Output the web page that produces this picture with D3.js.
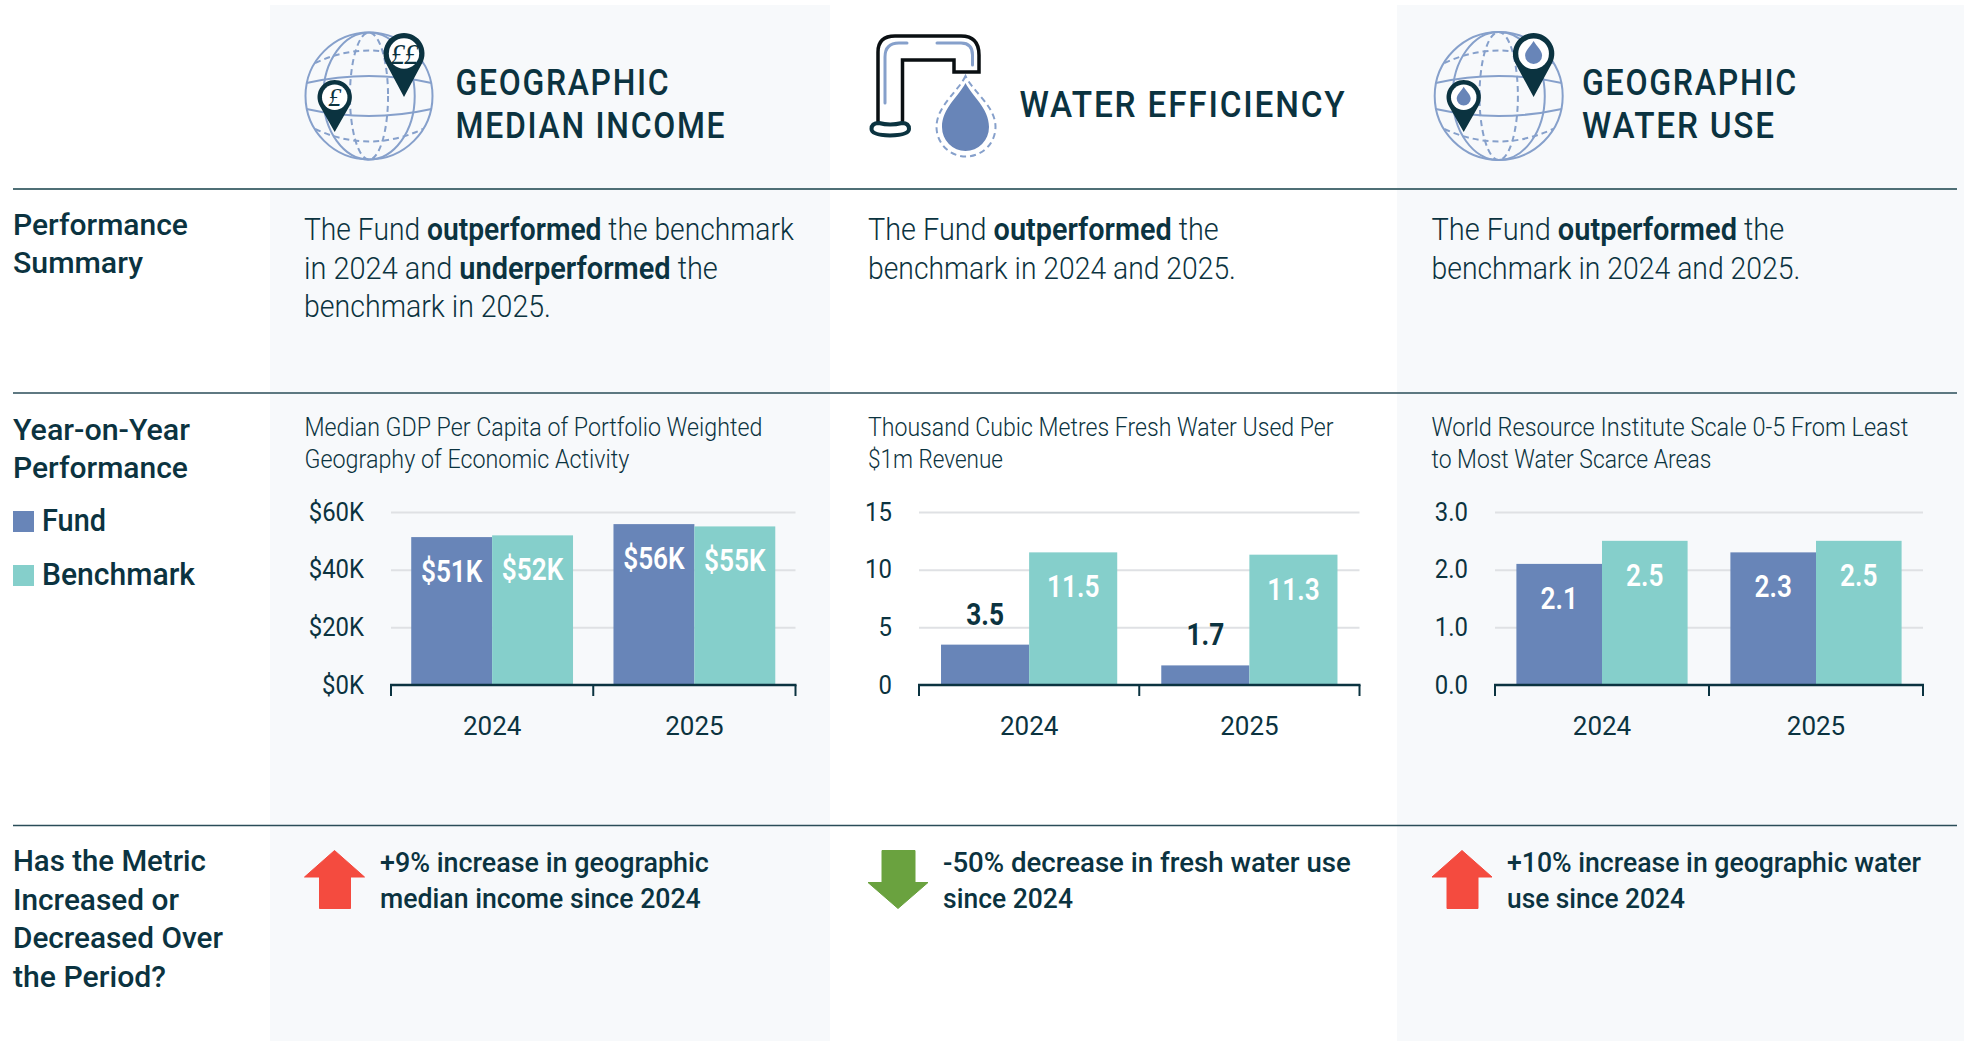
<!DOCTYPE html>
<html>
<head>
<meta charset="utf-8">
<script src="https://cdn.jsdelivr.net/npm/d3@7"></script>
<style>
  html, body { margin: 0; padding: 0; background: #fff; }
  svg { display: block; }
  text { font-family: Roboto, "Open Sans", sans-serif; fill: #0b3340; }
</style>
</head>
<body>
<div id="chart"></div>
<script>
// chart data
const years = ["2024", "2025"];
const series = ["Fund", "Benchmark"];
const incomeFund = [51.3, 55.8];
const incomeBenchmark = [51.9, 55.0];
const incomeTicks = [0, 20, 40, 60];
const waterFund = [3.5, 1.7];
const waterBenchmark = [11.5, 11.3];
const waterTicks = [0, 5, 10, 15];
const scarcityFund = [2.1, 2.3];
const scarcityBenchmark = [2.5, 2.5];
const scarcityTicks = [0, 1, 2, 3];

const FUND = "#6885b8", BENCH = "#85cfcb", INK = "#0b3340";
const GRID = "#dfe1e4", PANEL = "#f7f9fb", LINE_BLUE = "#86a0cb";
const seriesColor = d3.scaleOrdinal().domain(series).range([FUND, BENCH]);

const width = 1964, height = 1041;
const svg = d3.select("#chart").append("svg").attr("width", width).attr("height", height);

// Squeeze a text to a measured width, the installed fonts are wider than the original
function fit(text, x, y, w) {
    const k = w / text.node().getComputedTextLength();
    text.attr("transform", `translate(${x},${y}) scale(${k},1)`);
    return text;
}

function line(parent, runs, x, y, w, size, weight, spacing) {
    const t = parent.append("text")
        .style("font-size", size + "px")
        .style("font-weight", weight)
        .style("letter-spacing", spacing ? spacing + "px" : null);
    runs.forEach(r => {
        t.append("tspan")
            .style("font-weight", r.bold ? 600 : null)
            .text(r.text);
    });
    return fit(t, x, y, w);
}
const plain = s => [{ text: s }];

// Background panels
[[270, 830], [1397, 1964]].forEach(p => {
    svg.append("rect").attr("x", p[0]).attr("y", 5)
        .attr("width", p[1] - p[0]).attr("height", height - 5).attr("fill", PANEL);
});

// Row rules
[[189, "#4f6f76", 2], [393, "#2a4d58", 1.5], [825.5, "#2a4d58", 1.5]].forEach(r => {
    svg.append("line").attr("x1", 13).attr("x2", 1957).attr("y1", r[0]).attr("y2", r[0])
        .attr("stroke", r[1]).attr("stroke-width", r[2]);
});

// Left column
const rowLabels = [
    ["Performance", 235, 175], ["Summary", 273, 130],
    ["Year-on-Year", 440, 177], ["Performance", 478, 175],
    ["Has the Metric", 871, 193], ["Increased or", 910, 166],
    ["Decreased Over", 948, 210], ["the Period?", 987, 153]
];
rowLabels.forEach(d => line(svg, plain(d[0]), 13, d[1], d[2], 30, 500));

// Legend
[[511, 531, 64], [565, 585, 153]].forEach((d, i) => {
    svg.append("rect").attr("x", 13).attr("y", d[0]).attr("width", 21).attr("height", 21)
        .attr("fill", seriesColor(series[i]));
    line(svg, plain(series[i]), 42, d[1], d[2], 31, 500);
});

// Globe with two map pins
function globe(cx, cy, r) {
    const g = svg.append("g").attr("transform", `translate(${cx},${cy})`)
        .attr("fill", "none").attr("stroke", LINE_BLUE).attr("stroke-width", 2);
    g.append("circle").attr("r", r);
    g.append("ellipse").attr("rx", r * 0.72).attr("ry", r);
    const dashed = g.append("g").attr("stroke-dasharray", "6 4");
    dashed.append("ellipse").attr("rx", r * 0.3).attr("ry", r);
    [-1, 1].forEach(s => {
        g.append("path").attr("d", `M${-r + 1},${s * 13}Q0,${s * 27} ${r - 1},${s * 13}`);
        dashed.append("path").attr("d", `M${-r * 0.85},${s * 33}Q0,${s * 58} ${r * 0.85},${s * 33}`);
    });
}

function pin(cx, top, r, tip) {
    const cy = top + r;
    const g = svg.append("g").attr("transform", `translate(${cx},${cy})`);
    const a = Math.asin(r / (tip - cy));
    const px = r * Math.cos(a), py = r * Math.sin(a);
    g.append("path").attr("fill", INK)
        .attr("d", `M${-px},${py}A${r},${r} 0 1 1 ${px},${py}L0,${tip - cy}Z`);
    g.append("circle").attr("r", r * 0.74).attr("fill", "#fff");
    return g;
}

function smallDrop(g, r) {
    g.append("path").attr("fill", FUND)
        .attr("d", `M0,${-r * 1.5}C${r * 0.4},${-r * 0.8} ${r},${-r * 0.4} ${r},${r * 0.2}A${r},${r} 0 1 1 ${-r},${r * 0.2}C${-r},${-r * 0.4} ${-r * 0.4},${-r * 0.8} 0,${-r * 1.5}Z`);
}

globe(369, 96, 63.5);
pin(404, 33, 20.5, 97).append("text").attr("text-anchor", "middle").attr("y", 10)
    .style("font-family", "'Liberation Serif', serif").style("font-style", "italic")
    .style("font-size", "29px").style("letter-spacing", "-1px").text("££");
pin(334.7, 80, 17.2, 132).append("text").attr("text-anchor", "middle").attr("y", 9)
    .style("font-family", "'Liberation Serif', serif").style("font-style", "italic")
    .style("font-size", "26px").text("£");

globe(1498.7, 96, 64);
smallDrop(pin(1533.6, 33, 20.7, 97), 8.5);
smallDrop(pin(1463.7, 80, 17.2, 132), 7);

// Tap and drop
const tap = svg.append("g").attr("fill", "none");
tap.append("path")
    .attr("d", "M878,123V52Q878,36 895,36H961Q979,36 979,55V72H954V60H902.5V123")
    .attr("fill", "#fff").attr("stroke", "#0a0f12").attr("stroke-width", 3.5);
tap.append("path")
    .attr("d", "M871.5,129Q871.5,123 879,123Q890,126 902,123Q909,123 909,129Q909,135 890,135.5Q871.5,135 871.5,129Z")
    .attr("fill", "#fff").attr("stroke", INK).attr("stroke-width", 4);
tap.append("path").attr("d", "M885,103V57Q885,43 899,43H907M937,43H961Q972.5,43 972.5,55V65")
    .attr("stroke", LINE_BLUE).attr("stroke-width", 3).attr("stroke-linecap", "round");
tap.append("path").attr("d", "M965.5,83C959,96 942,108 942,127A23.5,24 0 0 0 989,127C989,108 972,96 965.5,83Z")
    .attr("fill", FUND);
tap.append("path").attr("d", "M965.5,76C958,92 936.5,106 936.5,127A29.5,29.5 0 0 0 995.5,127C995.5,106 973,92 965.5,76Z")
    .attr("stroke", LINE_BLUE).attr("stroke-width", 2).attr("stroke-dasharray", "6 4");

// Column headings
const headings = [
    ["GEOGRAPHIC", 455.5, 95, 215], ["MEDIAN INCOME", 455.5, 138, 271],
    ["WATER EFFICIENCY", 1019.5, 116.5, 327],
    ["GEOGRAPHIC", 1582, 95, 216], ["WATER USE", 1582, 138, 194]
];
headings.forEach(d => line(svg, plain(d[0]), d[1], d[2], d[3], 37, 500, 2));

// Performance summary
const o = { text: "outperformed", bold: true };
const u = { text: "underperformed", bold: true };
const summaries = [
    [[{ text: "The Fund " }, o, { text: " the benchmark" }], 304, 240, 490],
    [[{ text: "in 2024 and " }, u, { text: " the" }], 304, 279, 414],
    [plain("benchmark in 2025."), 304, 317, 247],
    [[{ text: "The Fund " }, o, { text: " the" }], 868, 240, 351],
    [plain("benchmark in 2024 and 2025."), 868, 279, 368],
    [[{ text: "The Fund " }, o, { text: " the" }], 1431.5, 240, 353],
    [plain("benchmark in 2024 and 2025."), 1431.5, 279, 369]
];
summaries.forEach(d => line(svg, d[0], d[1], d[2], d[3], 31, 300));

// Chart subtitles
const subtitles = [
    ["Median GDP Per Capita of Portfolio Weighted", 304.5, 436, 458],
    ["Geography of Economic Activity", 304.5, 468, 325],
    ["Thousand Cubic Metres Fresh Water Used Per", 868, 436, 466],
    ["$1m Revenue", 868, 468, 135],
    ["World Resource Institute Scale 0-5 From Least", 1431.5, 436, 477],
    ["to Most Water Scarce Areas", 1431.5, 468, 280]
];
subtitles.forEach(d => line(svg, plain(d[0]), d[1], d[2], d[3], 26, 300));

// Bar charts
function drawBars(left, right, fund, bench, ticks, tickFormat, labelFormat) {
    const yBottom = 685, yTop = 512;
    const g = svg.append("g");
    const rows = years.map((y, i) => ({ year: y, values: [fund[i], bench[i]] }));

    const x0 = d3.scaleBand().domain(years).range([left, right]);
    const x1 = d3.scaleBand().domain(series).range([0, x0.bandwidth()]).paddingOuter(0.25);
    const y = d3.scaleLinear().domain([ticks[0], ticks[ticks.length - 1]]).range([yBottom, yTop]);

    // gridlines
    const grid = g.append("g").attr("transform", `translate(${left},0)`)
        .call(d3.axisLeft(y).tickValues(ticks.slice(1)).tickSize(-(right - left)).tickFormat(""));
    grid.select(".domain").remove();
    grid.selectAll(".tick line").attr("stroke", GRID).attr("stroke-width", 2);

    // bars
    const groups = g.selectAll(".year").data(rows).enter().append("g")
        .attr("class", "year")
        .attr("transform", d => `translate(${x0(d.year)},0)`);
    groups.selectAll("rect")
        .data(d => d.values.map((v, i) => ({ name: series[i], value: v })))
        .enter().append("rect")
        .attr("x", d => x1(d.name))
        .attr("width", x1.bandwidth())
        .attr("y", d => y(d.value))
        .attr("height", d => yBottom - y(d.value))
        .attr("fill", d => seriesColor(d.name));

    // value labels, small bars get theirs on top in dark
    groups.selectAll(".value")
        .data(d => d.values.map((v, i) => ({ name: series[i], value: v })))
        .enter().append("text")
        .attr("class", "value")
        .attr("text-anchor", "middle")
        .attr("transform", d => {
            const inside = y(d.value) < yBottom - 60;
            return `translate(${x1(d.name) + x1.bandwidth() / 2},${y(d.value) + (inside ? 45 : -20)}) scale(0.82,1)`;
        })
        .style("font-size", "32px")
        .style("font-weight", d => y(d.value) < yBottom - 60 ? 600 : 700)
        .style("fill", d => y(d.value) < yBottom - 60 ? "#fff" : INK)
        .text(d => labelFormat(d.value));

    // y labels
    const yAxis = g.append("g").attr("transform", `translate(${left},0)`)
        .call(d3.axisLeft(y).tickValues(ticks).tickSize(0).tickPadding(27).tickFormat(tickFormat));
    yAxis.select(".domain").remove();
    yAxis.selectAll("text")
        .attr("x", 0)
        .attr("transform", "translate(-27,0) scale(0.92,1)")
        .style("font-size", "26px").style("font-family", null).attr("fill", null);

    // x axis, ticks sit between the years
    const xAxis = g.append("g").attr("transform", `translate(0,${yBottom})`)
        .call(d3.axisBottom(x0).tickSize(0).tickPadding(32));
    xAxis.select(".domain").remove();
    xAxis.selectAll("text").style("font-size", "26px").style("font-family", null).attr("fill", null);
    const bounds = d3.range(years.length + 1).map(i => left + i * x0.step());
    g.append("line").attr("x1", left - 1).attr("x2", right + 1).attr("y1", yBottom).attr("y2", yBottom)
        .attr("stroke", INK).attr("stroke-width", 2.5);
    g.selectAll(".bound").data(bounds).enter().append("line")
        .attr("class", "bound")
        .attr("x1", d => d).attr("x2", d => d)
        .attr("y1", yBottom).attr("y2", yBottom + 11)
        .attr("stroke", INK).attr("stroke-width", 2);
}

const incomeFormat = v => "$" + d3.format(".0f")(v) + "K";
drawBars(391, 795.5, incomeFund, incomeBenchmark, incomeTicks, incomeFormat, incomeFormat);
drawBars(919, 1359.5, waterFund, waterBenchmark, waterTicks, d3.format("d"), d3.format(".1f"));
drawBars(1495, 1923, scarcityFund, scarcityBenchmark, scarcityTicks, d3.format(".1f"), d3.format(".1f"));

// Change arrows
function arrow(x, up, color) {
    // x is the left edge; both arrows span 60 wide and 59 tall
    const top = 850.5, bottom = 908.5, w = 60;
    const neck = up ? 877 : 882.5;
    const s0 = x + (up ? 15 : 14), s1 = x + (up ? 46 : 47);
    const d = up
        ? `M${x + w / 2},${top}L${x + w},${neck}H${s1}V${bottom}H${s0}V${neck}H${x}Z`
        : `M${s0},${top}H${s1}V${neck}H${x + w}L${x + w / 2},${bottom}L${x},${neck}H${s0}Z`;
    svg.append("path").attr("d", d).attr("fill", color)
        .attr("stroke", color).attr("stroke-width", 1).attr("stroke-linejoin", "round");
}
arrow(304.5, true, "#f44b3f");
arrow(868, false, "#6aa23f");
arrow(1432, true, "#f44b3f");

const changes = [
    ["+9% increase in geographic", 380, 872, 329],
    ["median income since 2024", 380, 908, 321],
    ["-50% decrease in fresh water use", 943, 872, 408],
    ["since 2024", 943, 908, 130],
    ["+10% increase in geographic water", 1507, 872, 414],
    ["use since 2024", 1507, 908, 178]
];
changes.forEach(d => line(svg, plain(d[0]), d[1], d[2], d[3], 28, 500));
</script>
</body>
</html>
